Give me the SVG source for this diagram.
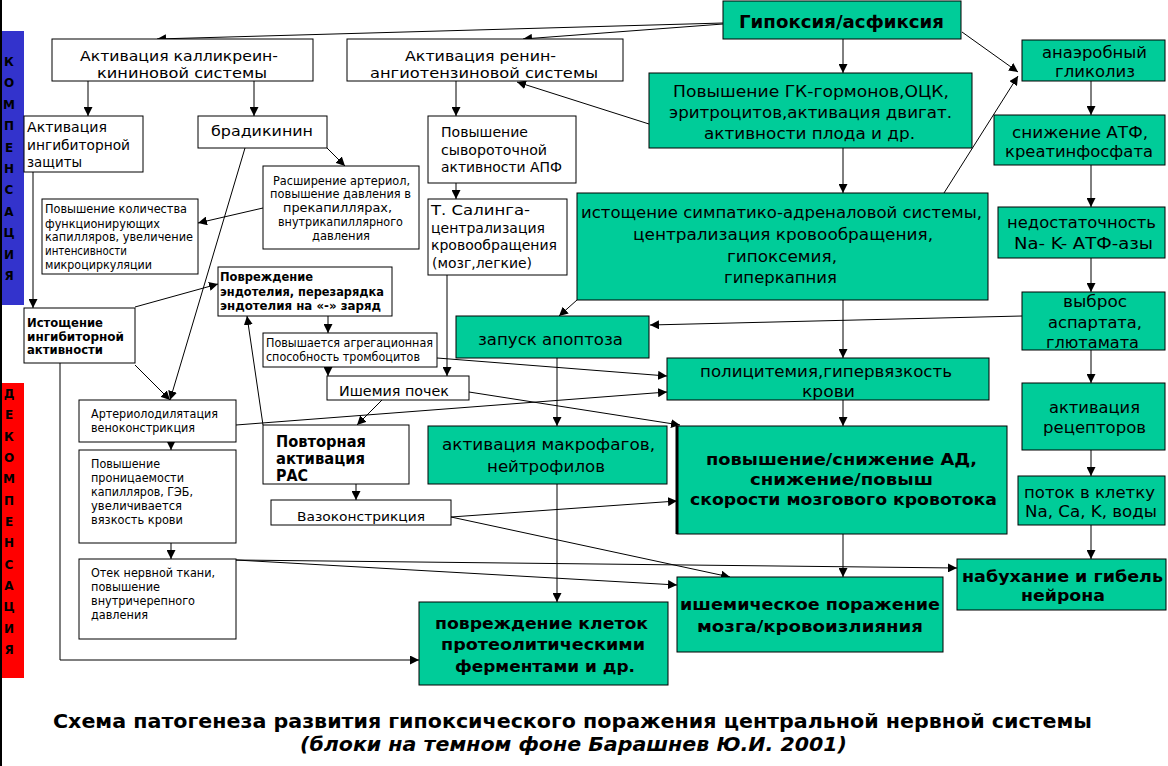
<svg xmlns="http://www.w3.org/2000/svg" width="1168" height="766" viewBox="0 0 1168 766">
<style>
.w{fill:#fff;stroke:#000;stroke-width:1}
.g{fill:#00CC99;stroke:#000;stroke-width:1}
text{font-family:"DejaVu Sans","Liberation Sans",sans-serif;fill:#000}
.b{font-weight:bold}
.s{font-size:11.5px}
.m{font-size:12px}
.l{font-size:14.5px}
.x{font-size:16.5px}
.h{font-size:14.5px}
.side{font-size:12px;font-weight:bold;text-anchor:middle}
.c line,.c polyline{stroke:#000;stroke-width:1;fill:none;marker-end:url(#ah)}
</style>
<defs>
<marker id="ah" viewBox="0 0 10 10" refX="10" refY="5" markerWidth="9" markerHeight="9" markerUnits="userSpaceOnUse" orient="auto"><path d="M0,0 L10,5 L0,10 z" fill="#000"/></marker>
</defs>
<rect x="0" y="0" width="1168" height="766" fill="#fff"/>
<rect x="0" y="0" width="2" height="766" fill="#000"/>
<g id="side-comp">
<rect x="2" y="31" width="22" height="274" fill="#3333CC"/>
<text class="side" x="9" y="66">К</text><text class="side" x="9" y="87.4">О</text><text class="side" x="9" y="108.8">М</text><text class="side" x="9" y="130.2">П</text><text class="side" x="9" y="151.6">Е</text><text class="side" x="9" y="173">Н</text><text class="side" x="9" y="194.4">С</text><text class="side" x="9" y="215.8">А</text><text class="side" x="9" y="237.2">Ц</text><text class="side" x="9" y="258.6">И</text><text class="side" x="9" y="280">Я</text>
</g>
<g id="side-decomp">
<rect x="2" y="383" width="22" height="295" fill="#FF0000"/>
<text class="side" x="9" y="398">Д</text><text class="side" x="9" y="419.3">Е</text><text class="side" x="9" y="440.7">К</text><text class="side" x="9" y="462">О</text><text class="side" x="9" y="483.3">М</text><text class="side" x="9" y="504.7">П</text><text class="side" x="9" y="526">Е</text><text class="side" x="9" y="547.3">Н</text><text class="side" x="9" y="568.7">С</text><text class="side" x="9" y="590">А</text><text class="side" x="9" y="611.3">Ц</text><text class="side" x="9" y="632.7">И</text><text class="side" x="9" y="654">Я</text>
</g>

<g class="c" id="connectors">
<line x1="723" y1="23" x2="157" y2="39"/>
<line x1="723" y1="24" x2="523" y2="39"/>
<line x1="962" y1="32" x2="1018" y2="72"/>
<line x1="843" y1="39" x2="843" y2="73"/>
<line x1="843" y1="148" x2="843" y2="193"/>
<line x1="649" y1="124" x2="517" y2="82"/>
<line x1="1091" y1="81" x2="1091" y2="115"/>
<line x1="1091" y1="165" x2="1091" y2="207"/>
<line x1="1091" y1="258" x2="1091" y2="292"/>
<line x1="1091" y1="350" x2="1091" y2="383"/>
<line x1="1091" y1="450" x2="1091" y2="476"/>
<line x1="1091" y1="525" x2="1091" y2="559"/>
<line x1="944" y1="193" x2="1018" y2="76"/>
<line x1="1022" y1="316" x2="650" y2="325"/>
<line x1="577" y1="300" x2="559" y2="316"/>
<line x1="843" y1="300" x2="843" y2="358"/>
<line x1="843" y1="400" x2="843" y2="426"/>
<line x1="843" y1="534" x2="843" y2="577"/>
<line x1="557" y1="358" x2="557" y2="426"/>
<line x1="557" y1="484" x2="557" y2="602"/>
<line x1="437" y1="358" x2="667" y2="376"/>
<line x1="236" y1="425" x2="667" y2="392"/>
<line x1="469" y1="392" x2="680" y2="425"/>
<line x1="382" y1="400" x2="357" y2="425"/>
<line x1="328" y1="367" x2="328" y2="376"/>
<line x1="328" y1="316" x2="328" y2="333"/>
<line x1="447" y1="275" x2="447" y2="376"/>
<line x1="456" y1="183" x2="456" y2="199"/>
<line x1="456" y1="81" x2="456" y2="116"/>
<line x1="88" y1="81" x2="88" y2="116"/>
<line x1="254" y1="81" x2="254" y2="116"/>
<line x1="327" y1="148" x2="345" y2="166"/>
<line x1="263" y1="208" x2="198" y2="223"/>
<line x1="245" y1="148" x2="170" y2="400"/>
<line x1="135" y1="307" x2="218" y2="284"/>
<line x1="135" y1="365" x2="170" y2="400"/>
<line x1="33" y1="172" x2="33" y2="308"/>
<polyline points="60,363 60,660 419,660"/>
<line x1="263" y1="425" x2="247" y2="316"/>
<line x1="356" y1="484" x2="356" y2="500"/>
<line x1="171" y1="442" x2="171" y2="450"/>
<line x1="171" y1="543" x2="171" y2="559"/>
<line x1="451" y1="517" x2="677" y2="501"/>
<line x1="451" y1="517" x2="730" y2="577"/>
<line x1="236" y1="560" x2="957" y2="568"/>
<line x1="236" y1="560" x2="677" y2="585"/>
</g>

<g id="n-kallikrein"><rect class="w" x="52" y="39" width="261" height="42"/>
<text class="h" x="80" y="61" textLength="198" lengthAdjust="spacingAndGlyphs">Активация калликреин-</text>
<text class="h" x="97" y="78" textLength="170" lengthAdjust="spacingAndGlyphs">кининовой системы</text></g>
<g id="n-renin"><rect class="w" x="347" y="39" width="276" height="42"/>
<text class="h" x="405" y="61" textLength="151" lengthAdjust="spacingAndGlyphs">Активация ренин-</text>
<text class="h" x="370" y="78" textLength="228" lengthAdjust="spacingAndGlyphs">ангиотензиновой системы</text></g>
<g id="n-inhib"><rect class="w" x="24" y="116" width="119" height="56"/>
<text class="l" x="27" y="132" textLength="80" lengthAdjust="spacingAndGlyphs">Активация</text>
<text class="l" x="27" y="150" textLength="103" lengthAdjust="spacingAndGlyphs">ингибиторной</text>
<text class="l" x="27" y="167" textLength="55" lengthAdjust="spacingAndGlyphs">защиты</text></g>
<g id="n-bradykinin"><rect class="w" x="198" y="116" width="129" height="32"/>
<text class="l" x="211" y="136" textLength="102" lengthAdjust="spacingAndGlyphs">брадикинин</text></g>
<g id="n-arteriol"><rect class="w" x="263" y="166" width="156" height="83"/>
<text class="s" x="273" y="185" textLength="137" lengthAdjust="spacingAndGlyphs">Расширение артериол,</text>
<text class="s" x="270" y="198" textLength="141" lengthAdjust="spacingAndGlyphs">повышение давления в</text>
<text class="s" x="283" y="212" textLength="109" lengthAdjust="spacingAndGlyphs">прекапиллярах,</text>
<text class="s" x="278" y="226" textLength="125" lengthAdjust="spacingAndGlyphs">внутрикапиллярного</text>
<text class="s" x="312" y="240" textLength="58" lengthAdjust="spacingAndGlyphs">давления</text></g>
<g id="n-apf"><rect class="w" x="428" y="116" width="148" height="67"/>
<text class="l" x="441" y="137" textLength="87" lengthAdjust="spacingAndGlyphs">Повышение</text>
<text class="l" x="441" y="155" textLength="106" lengthAdjust="spacingAndGlyphs">сывороточной</text>
<text class="l" x="441" y="172" textLength="121" lengthAdjust="spacingAndGlyphs">активности АПФ</text></g>
<g id="n-salinga"><rect class="w" x="428" y="199" width="139" height="76"/>
<text class="l" x="431" y="215" textLength="99" lengthAdjust="spacingAndGlyphs">Т. Салинга-</text>
<text class="l" x="431" y="233" textLength="114" lengthAdjust="spacingAndGlyphs">централизация</text>
<text class="l" x="431" y="250" textLength="126" lengthAdjust="spacingAndGlyphs">кровообращения</text>
<text class="l" x="432" y="268" textLength="100" lengthAdjust="spacingAndGlyphs">(мозг,легкие)</text></g>
<g id="n-capillaries"><rect class="w" x="42" y="199" width="156" height="75"/>
<text class="s" x="45" y="213" textLength="142" lengthAdjust="spacingAndGlyphs">Повышение количества</text>
<text class="s" x="45" y="228" textLength="115" lengthAdjust="spacingAndGlyphs">функционирующих</text>
<text class="s" x="45" y="241" textLength="148" lengthAdjust="spacingAndGlyphs">капилляров, увеличение</text>
<text class="s" x="45" y="255" textLength="82" lengthAdjust="spacingAndGlyphs">интенсивности</text>
<text class="s" x="45" y="269" textLength="107" lengthAdjust="spacingAndGlyphs">микроциркуляции</text></g>
<g id="n-inhib-exh"><rect class="w" x="24" y="308" width="111" height="55"/>
<text class="b" font-size="13" x="27" y="327" textLength="76" lengthAdjust="spacingAndGlyphs">Истощение</text>
<text class="b" font-size="13" x="27" y="341" textLength="97" lengthAdjust="spacingAndGlyphs">ингибиторной</text>
<text class="b" font-size="13" x="27" y="354" textLength="76" lengthAdjust="spacingAndGlyphs">активности</text></g>
<g id="n-endothel"><rect class="w" x="218" y="267" width="174" height="49"/>
<text class="b m" x="220" y="281" textLength="93" lengthAdjust="spacingAndGlyphs">Повреждение</text>
<text class="b m" x="220" y="296" textLength="164" lengthAdjust="spacingAndGlyphs">эндотелия, перезарядка</text>
<text class="b m" x="220" y="310" textLength="161" lengthAdjust="spacingAndGlyphs">эндотелия на «-» заряд</text></g>
<g id="n-platelets"><rect class="w" x="263" y="333" width="174" height="34"/>
<text class="s" x="266" y="347" textLength="167" lengthAdjust="spacingAndGlyphs">Повышается агрегационная</text>
<text class="s" x="266" y="361" textLength="154" lengthAdjust="spacingAndGlyphs">способность тромбоцитов</text></g>
<g id="n-kidney"><rect class="w" x="327" y="376" width="142" height="24"/>
<text font-size="14" x="339" y="396" textLength="110" lengthAdjust="spacingAndGlyphs">Ишемия почек</text></g>
<g id="n-arteriolodil"><rect class="w" x="79" y="400" width="157" height="42"/>
<text class="m" x="91" y="418" textLength="127" lengthAdjust="spacingAndGlyphs">Артериолодилятация</text>
<text class="m" x="91" y="432" textLength="104" lengthAdjust="spacingAndGlyphs">веноконстрикция</text></g>
<g id="n-ras"><rect class="w" x="263" y="425" width="146" height="59"/>
<text class="b" font-size="15" x="276" y="447" textLength="90" lengthAdjust="spacingAndGlyphs">Повторная</text>
<text class="b" font-size="15" x="276" y="464" textLength="89" lengthAdjust="spacingAndGlyphs">активация</text>
<text class="b" font-size="15" x="276" y="481" textLength="32" lengthAdjust="spacingAndGlyphs">РАС</text></g>
<g id="n-permeab"><rect class="w" x="79" y="450" width="157" height="93"/>
<text class="m" x="91" y="468" textLength="69" lengthAdjust="spacingAndGlyphs">Повышение</text>
<text class="m" x="91" y="482" textLength="93" lengthAdjust="spacingAndGlyphs">проницаемости</text>
<text class="m" x="91" y="496" textLength="102" lengthAdjust="spacingAndGlyphs">капилляров, ГЭБ,</text>
<text class="m" x="91" y="510" textLength="91" lengthAdjust="spacingAndGlyphs">увеличивается</text>
<text class="m" x="91" y="524" textLength="92" lengthAdjust="spacingAndGlyphs">вязкость крови</text></g>
<g id="n-vasocon"><rect class="w" x="271" y="500" width="180" height="25"/>
<text font-size="13" x="297" y="521" textLength="128" lengthAdjust="spacingAndGlyphs">Вазоконстрикция</text></g>
<g id="n-edema"><rect class="w" x="79" y="559" width="157" height="80"/>
<text class="m" x="91" y="577" textLength="124" lengthAdjust="spacingAndGlyphs">Отек нервной ткани,</text>
<text class="m" x="91" y="591" textLength="69" lengthAdjust="spacingAndGlyphs">повышение</text>
<text class="m" x="91" y="605" textLength="104" lengthAdjust="spacingAndGlyphs">внутричерепного</text>
<text class="m" x="91" y="619" textLength="57" lengthAdjust="spacingAndGlyphs">давления</text></g>

<g id="n-hypoxia"><rect class="g" x="723" y="1" width="238" height="38"/>
<text class="b" font-size="17.5" x="739" y="28" textLength="205" lengthAdjust="spacingAndGlyphs">Гипоксия/асфиксия</text></g>
<g id="n-gk"><rect class="g" x="649" y="73" width="323" height="75"/>
<text class="x" x="673" y="97" textLength="276" lengthAdjust="spacingAndGlyphs">Повышение ГК-гормонов,ОЦК,</text>
<text class="x" x="669" y="118" textLength="283" lengthAdjust="spacingAndGlyphs">эритроцитов,активация двигат.</text>
<text class="x" x="704" y="139" textLength="211" lengthAdjust="spacingAndGlyphs">активности плода и др.</text></g>
<g id="n-glycolysis"><rect class="g" x="1022" y="40" width="143" height="41"/>
<text class="x" x="1042" y="58" textLength="105" lengthAdjust="spacingAndGlyphs">анаэробный</text>
<text class="x" x="1055" y="77" textLength="80" lengthAdjust="spacingAndGlyphs">гликолиз</text></g>
<g id="n-atp"><rect class="g" x="994" y="115" width="171" height="50"/>
<text class="x" x="1012" y="138" textLength="136" lengthAdjust="spacingAndGlyphs">снижение АТФ,</text>
<text class="x" x="1005" y="157" textLength="148" lengthAdjust="spacingAndGlyphs">креатинфосфата</text></g>
<g id="n-naka"><rect class="g" x="998" y="207" width="167" height="51"/>
<text class="x" x="1007" y="228" textLength="149" lengthAdjust="spacingAndGlyphs">недостаточность</text>
<text class="x" x="1014" y="249" textLength="139" lengthAdjust="spacingAndGlyphs">Na- K- АТФ-азы</text></g>
<g id="n-aspartate"><rect class="g" x="1022" y="292" width="143" height="58"/>
<text class="x" x="1063" y="307" textLength="64" lengthAdjust="spacingAndGlyphs">выброс</text>
<text class="x" x="1048" y="328" textLength="94" lengthAdjust="spacingAndGlyphs">аспартата,</text>
<text class="x" x="1046" y="348" textLength="93" lengthAdjust="spacingAndGlyphs">глютамата</text></g>
<g id="n-receptors"><rect class="g" x="1022" y="383" width="143" height="67"/>
<text class="x" x="1049" y="413" textLength="91" lengthAdjust="spacingAndGlyphs">активация</text>
<text class="x" x="1043" y="433" textLength="103" lengthAdjust="spacingAndGlyphs">рецепторов</text></g>
<g id="n-influx"><rect class="g" x="1018" y="476" width="147" height="49"/>
<text class="x" x="1024" y="498" textLength="131" lengthAdjust="spacingAndGlyphs">поток в клетку</text>
<text class="x" x="1025" y="517" textLength="132" lengthAdjust="spacingAndGlyphs">Na, Ca, K, воды</text></g>
<g id="n-swelling"><rect class="g" x="957" y="559" width="209" height="51"/>
<text class="x b" x="962" y="582" textLength="201" lengthAdjust="spacingAndGlyphs">набухание и гибель</text>
<text class="x b" x="1021" y="601" textLength="84" lengthAdjust="spacingAndGlyphs">нейрона</text></g>
<g id="n-sympatho"><rect class="g" x="577" y="193" width="411" height="107"/>
<text class="x" x="581" y="218" textLength="401" lengthAdjust="spacingAndGlyphs">истощение симпатико-адреналовой системы,</text>
<text class="x" x="633" y="240" textLength="300" lengthAdjust="spacingAndGlyphs">централизация кровообращения,</text>
<text class="x" x="727" y="262" textLength="110" lengthAdjust="spacingAndGlyphs">гипоксемия,</text>
<text class="x" x="724" y="283" textLength="113" lengthAdjust="spacingAndGlyphs">гиперкапния</text></g>
<g id="n-apoptosis"><rect class="g" x="456" y="316" width="193" height="42"/>
<text class="x" x="478" y="345" textLength="145" lengthAdjust="spacingAndGlyphs">запуск апоптоза</text></g>
<g id="n-polycyth"><rect class="g" x="667" y="358" width="322" height="42"/>
<text class="x" x="700" y="377" textLength="252" lengthAdjust="spacingAndGlyphs">полицитемия,гипервязкость</text>
<text class="x" x="802" y="397" textLength="53" lengthAdjust="spacingAndGlyphs">крови</text></g>
<g id="n-macro"><rect class="g" x="428" y="426" width="239" height="58"/>
<text class="x" x="442" y="450" textLength="213" lengthAdjust="spacingAndGlyphs">активация макрофагов,</text>
<text class="x" x="487" y="472" textLength="118" lengthAdjust="spacingAndGlyphs">нейтрофилов</text></g>
<g id="n-bp"><rect class="g" x="677" y="426" width="330" height="108"/>
<line x1="677" y1="426" x2="677" y2="534" stroke="#000" stroke-width="3"/>
<text class="b" font-size="16" x="706" y="465" textLength="271" lengthAdjust="spacingAndGlyphs">повышение/снижение АД,</text>
<text class="b" font-size="16" x="750" y="485" textLength="183" lengthAdjust="spacingAndGlyphs">снижение/повыш</text>
<text class="b" font-size="16" x="690" y="505" textLength="307" lengthAdjust="spacingAndGlyphs">скорости мозгового кровотока</text></g>
<g id="n-ischemic"><rect class="g" x="677" y="577" width="266" height="75"/>
<text class="b" font-size="16" x="680" y="610" textLength="260" lengthAdjust="spacingAndGlyphs">ишемическое поражение</text>
<text class="b" font-size="16" x="697" y="632" textLength="226" lengthAdjust="spacingAndGlyphs">мозга/кровоизлияния</text></g>
<g id="n-proteolytic"><rect class="g" x="419" y="602" width="249" height="83"/>
<text class="b" font-size="16" x="435" y="629" textLength="213" lengthAdjust="spacingAndGlyphs">повреждение клеток</text>
<text class="b" font-size="16" x="441" y="650" textLength="204" lengthAdjust="spacingAndGlyphs">протеолитическими</text>
<text class="b" font-size="16" x="455" y="672" textLength="180" lengthAdjust="spacingAndGlyphs">ферментами и др.</text></g>

<g id="title">
<text class="b" font-size="19.5" x="53" y="728" textLength="1039" lengthAdjust="spacingAndGlyphs">Схема патогенеза развития гипоксического поражения центральной нервной системы</text>
<text class="b" font-size="19" font-style="italic" x="300" y="751" textLength="547" lengthAdjust="spacingAndGlyphs">(блоки на темном фоне Барашнев Ю.И. 2001)</text>
</g>
</svg>
